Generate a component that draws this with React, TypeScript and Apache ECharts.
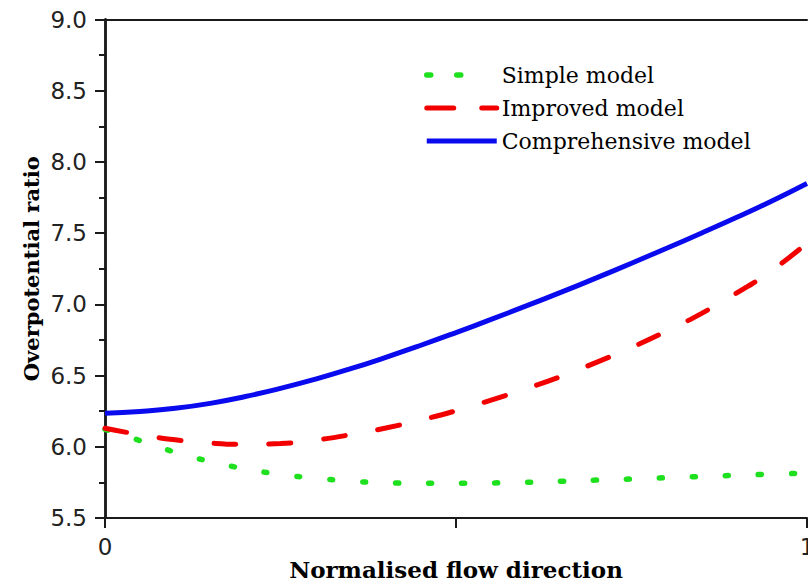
import React, { useEffect, useRef } from "react";
import * as echarts from "echarts";

// Normalised position along the flow direction
const xs = [0, 0.05, 0.1, 0.15, 0.2, 0.25, 0.3, 0.35, 0.4, 0.45, 0.5, 0.55, 0.6, 0.65, 0.7, 0.75, 0.8, 0.85, 0.9, 0.95, 1.0];

// Overpotential ratio predicted by each model
const simpleModel = [6.123, 6.043, 5.962, 5.896, 5.845, 5.806, 5.779, 5.759, 5.747, 5.744, 5.744, 5.746, 5.751, 5.758, 5.766, 5.774, 5.783, 5.792, 5.8, 5.808, 5.815];
const improvedModel = [6.13, 6.085, 6.049, 6.026, 6.017, 6.023, 6.048, 6.085, 6.132, 6.188, 6.253, 6.328, 6.408, 6.495, 6.593, 6.697, 6.812, 6.937, 7.08, 7.238, 7.43];
const comprehensiveModel = [6.235, 6.248, 6.27, 6.305, 6.353, 6.41, 6.475, 6.548, 6.628, 6.713, 6.802, 6.894, 6.989, 7.086, 7.186, 7.289, 7.394, 7.501, 7.611, 7.726, 7.849];

const seriesNames = ["Simple model", "Improved model", "Comprehensive model"];
const xTickLabels: Record<string, string> = { "0": "0", "1": "1" };

const yMin = 5.5;
const yMax = 9.0;

const pairs = (ys: number[]) => xs.map((x, i) => [x, ys[i]]);

const AXIS_COLOR = "#1a1a1a";
const SANS = "'DejaVu Sans', 'Liberation Sans', Arial, sans-serif";
const SERIF = "'DejaVu Serif', 'Liberation Serif', 'Times New Roman', serif";

// Legend entries show only the line, so the marker that ECharts adds is hidden
const hiddenMarker = { color: "rgba(0,0,0,0)", opacity: 0, borderWidth: 0 };

export default function App() {
  const ref = useRef<HTMLDivElement>(null);

  useEffect(() => {
    if (!ref.current) return;
    const chart = echarts.init(ref.current, undefined, { renderer: "svg" });

    chart.setOption({
      animation: false,
      backgroundColor: "#ffffff",
      grid: { left: 105, right: 1, top: 19.5, bottom: 68, containLabel: false, outerBoundsMode: "none" },
      legend: {
        orient: "vertical",
        left: 424,
        top: 64,
        padding: 0,
        itemWidth: 70,
        itemHeight: 14,
        itemGap: 11,
        lineStyle: { width: 5 },
        textStyle: { fontFamily: SERIF, fontSize: 22, color: "#000", lineHeight: 22 },
        data: [
          {
            name: seriesNames[0],
            lineStyle: { width: 5.5, type: [4, 26, 4, 100], cap: "round" },
            itemStyle: hiddenMarker,
          },
          {
            name: seriesNames[1],
            lineStyle: { width: 5, type: [27, 28], cap: "round" },
            itemStyle: hiddenMarker,
          },
          {
            name: seriesNames[2],
            lineStyle: { width: 5, type: "solid", cap: "butt" },
            itemStyle: hiddenMarker,
          },
        ],
      },
      xAxis: [
        {
          type: "value",
          position: "bottom",
          min: 0,
          max: 1,
          interval: 0.5,
          name: "Normalised flow direction",
          nameLocation: "middle",
          nameGap: 40,
          nameMoveOverlap: false,
          nameTextStyle: { fontFamily: SERIF, fontWeight: "bold", fontSize: 23, color: "#000" },
          axisLine: { show: true, lineStyle: { color: AXIS_COLOR, width: 2 } },
          axisTick: { show: true, inside: false, length: 10, lineStyle: { color: AXIS_COLOR, width: 2 } },
          axisLabel: {
            show: true,
            margin: 17,
            fontFamily: SANS,
            fontSize: 23,
            color: "#222",
            formatter: (v: number) => xTickLabels[String(v)] ?? "",
          },
          splitLine: { show: false },
        },
        {
          type: "value",
          position: "top",
          min: 0,
          max: 1,
          interval: 0.5,
          axisLine: { show: true, lineStyle: { color: AXIS_COLOR, width: 2 } },
          axisTick: { show: false },
          axisLabel: { show: false },
          splitLine: { show: false },
        },
      ],
      yAxis: [
        {
          type: "value",
          position: "left",
          min: yMin,
          max: yMax,
          interval: 0.5,
          name: "Overpotential ratio",
          nameLocation: "middle",
          nameGap: 63,
          nameMoveOverlap: false,
          nameRotate: 90,
          nameTextStyle: { fontFamily: SERIF, fontWeight: "bold", fontSize: 21, color: "#000" },
          axisLine: { show: true, lineStyle: { color: AXIS_COLOR, width: 2.5 } },
          axisTick: { show: true, inside: false, length: 10, lineStyle: { color: AXIS_COLOR, width: 2 } },
          minorTick: { show: true, splitNumber: 2, length: 6, lineStyle: { color: AXIS_COLOR, width: 2 } },
          axisLabel: {
            show: true,
            margin: 18,
            fontFamily: SANS,
            fontSize: 23,
            color: "#222",
            formatter: (v: number) => v.toFixed(1),
          },
          splitLine: { show: false },
        },
        {
          type: "value",
          position: "right",
          min: yMin,
          max: yMax,
          interval: 0.25,
          axisLine: { show: true, lineStyle: { color: AXIS_COLOR, width: 2.5 } },
          axisTick: { show: true, inside: true, length: 6, lineStyle: { color: AXIS_COLOR, width: 2 } },
          axisLabel: { show: false },
          splitLine: { show: false },
        },
      ],
      series: [
        {
          name: seriesNames[0],
          type: "line",
          smooth: 0.5,
          symbol: "none",
          clip: true,
          data: pairs(simpleModel),
          lineStyle: { color: "#1fe01f", width: 5.5, type: [3, 30], cap: "round" },
          itemStyle: { color: "#1fe01f" },
        },
        {
          name: seriesNames[1],
          type: "line",
          smooth: 0.5,
          symbol: "none",
          clip: true,
          data: pairs(improvedModel),
          lineStyle: { color: "#f20000", width: 5, type: [22, 33], cap: "round" },
          itemStyle: { color: "#f20000" },
        },
        {
          name: seriesNames[2],
          type: "line",
          smooth: 0.5,
          symbol: "none",
          clip: true,
          data: pairs(comprehensiveModel),
          lineStyle: { color: "#0a0aee", width: 5, type: "solid" },
          itemStyle: { color: "#0a0aee" },
        },
      ],
    });

    return () => chart.dispose();
  }, []);

  return (
    <div
      ref={ref}
      style={{ position: "fixed", left: 0, top: 0, width: 808, height: 586, background: "#fff" }}
    />
  );
}
